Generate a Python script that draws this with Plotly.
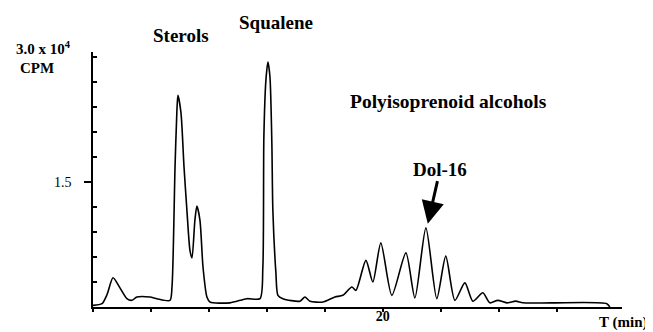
import plotly.graph_objects as go

# Retention time (min) and radioactivity (x 10^4 CPM)
time_min = [0.0, 0.62, 0.97, 1.38, 1.79, 2.34, 2.69, 3.03, 3.93, 4.41, 5.31, 5.45,
            5.66, 5.79, 5.86, 6.07, 6.28, 6.48, 6.69, 6.83, 7.03, 7.17, 7.38, 7.59,
            7.86, 8.07, 9.45, 10.62, 11.52, 11.72, 11.79, 11.93, 12.07, 12.21, 12.34,
            12.41, 12.62, 12.76, 13.10, 14.28, 14.62, 14.97, 15.86, 16.69, 17.24,
            17.86, 18.14, 18.83, 19.31, 19.86, 20.62, 21.59, 22.21, 22.97, 23.72,
            24.34, 24.97, 25.66, 26.21, 26.90, 27.38, 27.93, 28.55, 29.17, 29.66,
            31.72, 35.45, 35.66]
cpm = [0.02, 0.04, 0.15, 0.35, 0.25, 0.10, 0.08, 0.12, 0.12, 0.10, 0.08, 0.24,
       1.68, 2.36, 2.54, 2.33, 1.68, 1.16, 0.68, 0.59, 1.04, 1.21, 1.04, 0.48,
       0.12, 0.06, 0.05, 0.10, 0.10, 0.48, 2.04, 2.72, 2.94, 2.76, 1.97,
       1.16, 0.41, 0.14, 0.10, 0.07, 0.12, 0.07, 0.06, 0.12, 0.14,
       0.24, 0.20, 0.56, 0.30, 0.77, 0.14, 0.65, 0.11, 0.95, 0.10,
       0.61, 0.08, 0.29, 0.07, 0.17, 0.05, 0.08, 0.05, 0.07, 0.05,
       0.05, 0.04, 0.0]

x_ticks = [0, 4, 8, 12, 16, 20, 24, 28, 32]
x_tick_text = ["", "", "", "", "", "<b>20</b>", "", "", ""]
y_major = [1.5]
y_major_text = ["1.5"]
y_minor = [0.3, 0.6, 0.9, 1.2, 1.8, 2.1, 2.4, 2.7, 3.0]

dol16_time = 23.1
dol16_cpm = 1.0

SERIF = "Liberation Serif"

# The page body has an 8px default margin, so the figure is drawn 8px
# smaller and everything is laid out relative to that offset.
fig = go.Figure()
fig.add_trace(go.Scatter(
    x=time_min, y=cpm, mode="lines",
    line=dict(color="black", width=1.6, shape="spline", smoothing=0.7),
    showlegend=False, hoverinfo="skip",
))

fig.update_layout(
    width=645, height=324,
    margin=dict(l=85, r=31, t=44, b=25, autoexpand=False),
    paper_bgcolor="white", plot_bgcolor="white",
    font=dict(family=SERIF, color="black", size=12),
    xaxis=dict(
        range=[0, 36.5], showgrid=False, zeroline=False, automargin=False,
        showline=True, linecolor="black", linewidth=1.5,
        tickmode="array", tickvals=x_ticks, ticktext=x_tick_text,
        ticks="outside", ticklen=3, tickwidth=1.5, tickcolor="black",
        tickfont=dict(family=SERIF, size=14, color="black"),
        ticklabelstandoff=-8,
    ),
    yaxis=dict(
        range=[0, 3.06], showgrid=False, zeroline=False, automargin=False,
        showline=True, linecolor="black", linewidth=1.5,
        tickmode="array", tickvals=y_major, ticktext=y_major_text,
        ticks="outside", ticklen=7, tickwidth=1.5, tickcolor="black",
        tickfont=dict(family=SERIF, size=14, color="black"),
        ticklabelstandoff=10,
        minor=dict(tickmode="array", tickvals=y_minor, ticks="inside",
                   ticklen=4, tickwidth=1.5, tickcolor="black"),
    ),
)

def label(text, x, y, size, xanchor="center"):
    fig.add_annotation(text=text, x=x, y=y, xref="paper", yref="paper",
                       showarrow=False, xanchor=xanchor, yanchor="middle",
                       font=dict(family=SERIF, size=size, color="black"))

def px(xp, yp):
    # convert reference pixel position to paper coordinates (plot area 93..622, 52..307)
    return (xp - 93) / (622 - 93), (307 - yp) / (307 - 52)

for text, xp, yp, size, anchor in [
    ("<b>3.0 x 10<sup>4</sup></b>", 43, 48, 15, "center"),
    ("<b>CPM</b>", 37, 68, 15, "center"),
    ("<b>Sterols</b>", 181, 35, 19, "center"),
    ("<b>Squalene</b>", 276, 23, 19, "center"),
    ("<b>Polyisoprenoid alcohols</b>", 448, 101, 19.5, "center"),
    ("<b>Dol-16</b>", 440, 169, 19, "center"),
    ("<b>T (min)</b>", 649, 322, 15, "right"),
]:
    xx, yy = px(xp, yp)
    label(text, xx, yy, size, anchor)

# Arrow pointing at Dol-16 peak
fig.add_annotation(x=dol16_time, y=dol16_cpm, xref="x", yref="y",
                   text="", showarrow=True, ax=10, ay=-44,
                   arrowhead=2, arrowsize=1.5, arrowwidth=3, arrowcolor="black")

fig.write_html("out.html")
